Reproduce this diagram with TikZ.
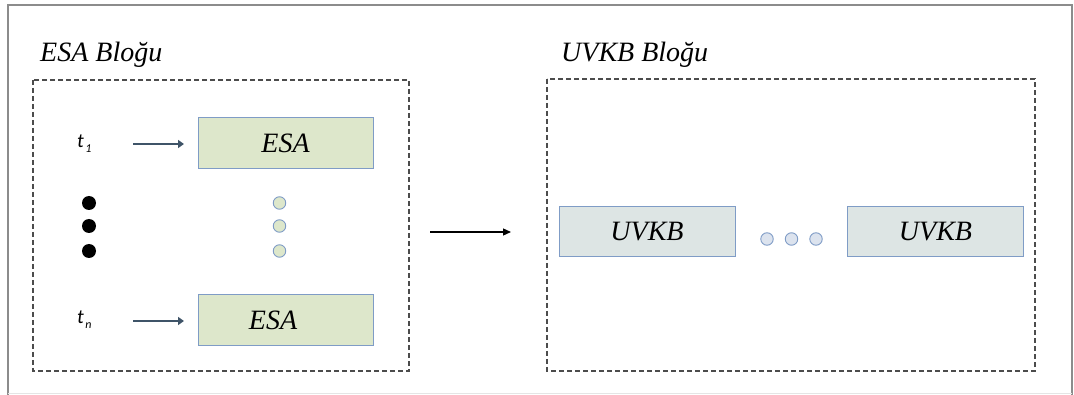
\documentclass[tikz,border=0pt]{standalone}
\usepackage{fontspec}
\setmainfont{Liberation Serif}
\newfontfamily\labelfont{Carlito}
\usetikzlibrary{arrows.meta}
\definecolor{frame}{HTML}{8C8C8C}
\definecolor{boxedge}{HTML}{7F9CC6}
\definecolor{esafill}{HTML}{DDE7CB}
\definecolor{uvkbfill}{HTML}{DDE5E4}
\definecolor{dotfill}{HTML}{DCE3EE}
\definecolor{arrowcol}{HTML}{3F5468}
\tikzset{
  block/.style={draw=black!70, dash pattern=on 5pt off 3pt, line width=1.1pt},
  esabox/.style={draw=boxedge, fill=esafill, line width=1pt, minimum width=175pt, minimum height=51pt, inner sep=0pt, font=\itshape\fontsize{28}{28}\selectfont},
  uvkbbox/.style={draw=boxedge, fill=uvkbfill, line width=1pt, minimum width=176pt, minimum height=50pt, inner sep=0pt, font=\itshape\fontsize{28}{28}\selectfont},
  bigdot/.style={circle, fill=black, minimum size=14pt, inner sep=0pt},
  greendot/.style={circle, draw=boxedge, fill=esafill, line width=0.9pt, minimum size=12.5pt, inner sep=0pt},
  bluedot/.style={circle, draw=boxedge, fill=dotfill, line width=0.9pt, minimum size=12.5pt, inner sep=0pt},
  title/.style={font=\itshape\fontsize{28}{28}\selectfont, anchor=base west, inner sep=0pt},
  tlabel/.style={font=\labelfont\itshape\fontsize{20}{20}\selectfont, inner sep=0pt, anchor=base west},
  feed/.style={draw=arrowcol, line width=2.2pt, -{Triangle[length=6pt,width=8pt]}},
}
\newcommand{\tsub}[1]{t\raisebox{-5pt}{\fontsize{12}{12}\selectfont\hspace{1.5pt}#1}}
\begin{document}
\begin{tikzpicture}[x=1pt,y=-1pt]
\useasboundingbox (0,0) rectangle (1074,395);
% outer frame
\draw[frame, line width=1.8pt] (8,395) -- (8,5) -- (1072,5) -- (1072,395);
\draw[black!10, line width=0.6pt] (8,393) -- (1072,393);
% block titles
\node[title] (esatitle) at (40,62) {ESA Bloğu};
\node[title] (uvkbtitle) at (561,62) {UVKB Bloğu};
% dashed block outlines
\draw[block] (33,80) rectangle (409,371);
\draw[block] (547,79) rectangle (1035,371);
% ESA block contents
\node[esabox] (esa1) at (285.5,143.5) {ESA};
\node[esabox] (esan) at (285.5,320.5) {\hspace*{-25pt}ESA};
\node[tlabel] (t1) at (77,148) {\tsub{1}};
\node[tlabel] (tn) at (77,324) {\tsub{n}};
\coordinate (a1s) at (133,144);
\coordinate (a1e) at (184,144);
\coordinate (ans) at (133,321);
\coordinate (ane) at (184,321);
\draw[feed] (a1s) -- (a1e);
\draw[feed] (ans) -- (ane);
\foreach \y [count=\i] in {203,226,251} {
  \node[bigdot] (bd\i) at (89,\y) {};
  \node[greendot] (gd\i) at (279.5,\y) {};
}
% transition arrow
\coordinate (ms) at (430,232);
\coordinate (me) at (511,232);
\draw[line width=1.3pt, -{Triangle[length=8pt,width=7pt]}] (ms) -- (me);
% UVKB block contents
\node[uvkbbox] (u1) at (647,232) {UVKB};
\node[uvkbbox] (u2) at (935.5,232) {UVKB};
\foreach \x [count=\i] in {767,791.5,816} {
  \node[bluedot] (ud\i) at (\x,239) {};
}
\end{tikzpicture}
\end{document}
